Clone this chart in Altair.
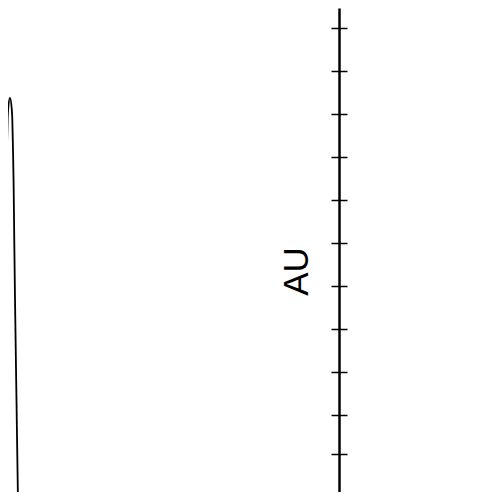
import altair as alt
import pandas as pd

# Curve (x in arbitrary units, y in AU)
curve_x = [-1.79, -1.63, -1.32, -1.02, -0.87, -0.73, -0.61, -0.47, -0.35, 0.0,
           0.35, 0.47, 0.61, 0.73, 0.87, 1.02, 1.32, 1.63, 1.79]
curve_y = [-0.86, 0.02, 2.39, 4.72, 6.11, 7.46, 8.20, 8.90, 9.13, 9.37,
           9.13, 8.90, 8.20, 7.46, 6.11, 4.72, 2.39, 0.02, -0.86]

# Tick values on the AU axis
tick_values = [0.1, 1.1, 2, 3, 4, 5, 6, 7, 8, 9, 10, 11]

df = pd.DataFrame({"x": curve_x, "y": curve_y})

xscale = alt.Scale(domain=[-0.4, 98.0])
yscale = alt.Scale(domain=[0.206, 11.46])

base = alt.Chart(df)

curve = base.mark_line(color="black", strokeWidth=1.8, interpolate="monotone", clip=True).encode(
    x=alt.X("x:Q", scale=xscale, axis=None),
    y=alt.Y(
        "y:Q",
        scale=yscale,
        axis=alt.Axis(
            orient="left",
            offset=-331,
            values=tick_values,
            labels=False,
            grid=False,
            tickSize=8,
            tickWidth=1.5,
            tickColor="black",
            domainWidth=2.5,
            domainColor="black",
            title="AU",
            titleFont="Liberation Sans",
            titleFontSize=35,
            titleFontWeight="normal",
            titleColor="black",
            titleX=-25,
            titleY=263,
        ),
    ),
)

right_ticks = base.mark_line(opacity=0).encode(
    x=alt.X("x:Q", scale=xscale, axis=None),
    y=alt.Y(
        "y:Q",
        scale=yscale,
        axis=alt.Axis(
            orient="right",
            offset=-153,
            values=tick_values,
            labels=False,
            grid=False,
            domain=False,
            tickSize=8,
            tickWidth=1.5,
            tickColor="black",
            title=None,
        ),
    ),
)

chart = (
    alt.layer(curve, right_ticks)
    .resolve_axis(y="independent")
    .properties(width=484, height=484, padding=0, autosize="none", background="white")
    .configure_view(stroke=None)
)

chart.save("out.html", embed_options={"renderer": "svg", "actions": False})
